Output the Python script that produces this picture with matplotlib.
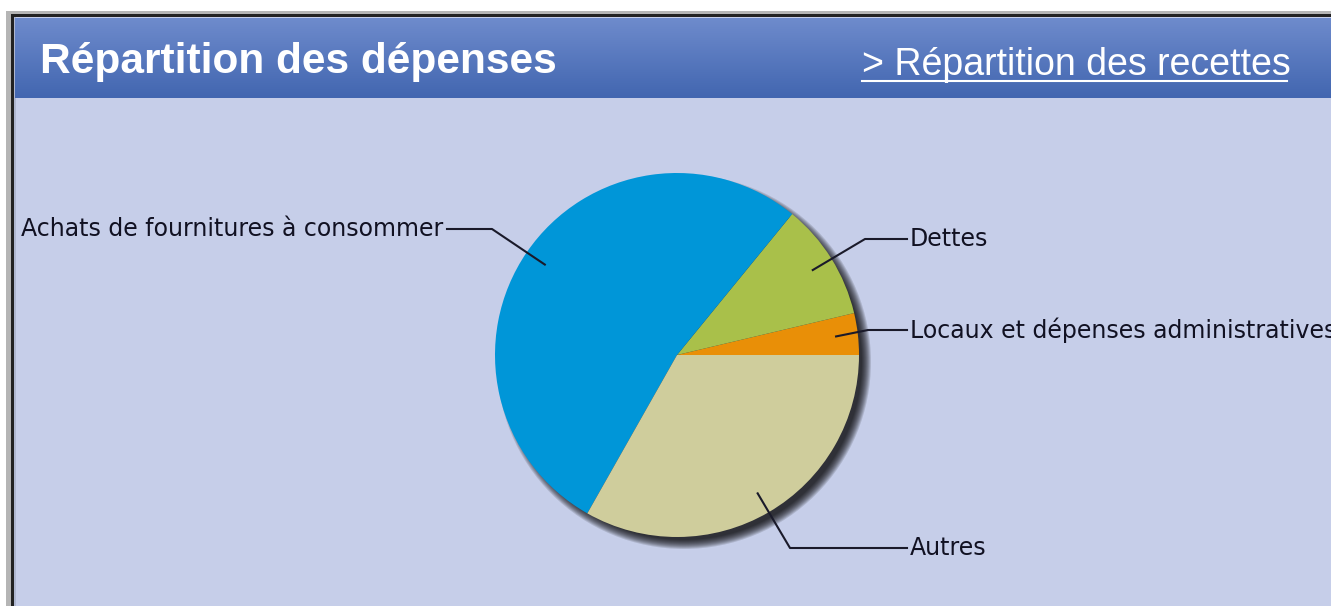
import matplotlib
matplotlib.use("Agg")
import matplotlib.pyplot as plt
import numpy as np
from matplotlib.patches import Circle, Rectangle

# data (share of expenses)
labels = ["Locaux et dépenses administratives", "Dettes",
          "Achats de fournitures à consommer", "Autres"]
shares = [3.7, 10.4, 52.7, 33.2]
colors = ["#e98f07", "#a9c04a", "#0096d8", "#cfcd9c"]

title = "Répartition des dépenses"
link = "> Répartition des recettes"

W, H = 1331, 606
BG = "#c6cee9"


def py(y):
    # pixel row (from top) -> data y
    return H - y


fig = plt.figure(figsize=(W / 100, H / 100), dpi=100)
ax = fig.add_axes([0, 0, 1, 1])
ax.set_xlim(0, W)
ax.set_ylim(0, H)
ax.set_aspect("equal")
ax.axis("off")
fig.patch.set_facecolor("white")

# frame
ax.add_patch(Rectangle((6, 0), W, py(11), color="#b5b5b5", lw=0))
ax.add_patch(Rectangle((11, 0), W, py(14), color="#222222", lw=0))
ax.add_patch(Rectangle((14, 0), W, py(17), color="#aeb6cf", lw=0))
ax.add_patch(Rectangle((16, 0), W, py(17), color=BG, lw=0))

# header band with vertical gradient
grad = np.linspace(0, 1, 100).reshape(-1, 1)
ax.imshow(grad, extent=(15, W, py(98), py(18)), aspect="auto",
          cmap=matplotlib.colors.LinearSegmentedColormap.from_list(
              "hdr", ["#6e8bcc", "#4266b0"]), zorder=1)

ax.text(40, py(62), title, color="white", fontsize=30.5, fontweight="bold",
        family="Liberation Sans", va="center", ha="left", zorder=3)
ax.text(862, py(65), link, color="white", fontsize=27,
        family="Liberation Sans", va="center", ha="left", zorder=3)
ax.plot([862, 1287], [py(81), py(81)], color="white", lw=1.5, zorder=3)

# pie
cx, cy, r = 677, py(355), 182

# soft drop shadow
for k in range(10):
    ax.add_patch(Circle((cx + 7, cy - 7), r + 5 - k, color="black",
                        alpha=0.13, lw=0, zorder=2))

wedges, _ = ax.pie(shares, colors=colors, startangle=0, counterclock=True,
                   center=(cx, cy), radius=r, frame=True,
                   wedgeprops=dict(linewidth=0))
for w in wedges:
    w.set_zorder(3)
ax.set_xlim(0, W)
ax.set_ylim(0, H)
ax.axis("off")

# leader lines and labels
elbows = [(868, 330), (865, 239), (492, 229), (790, 548)]
ends = [907, 907, 447, 907]
starts = np.cumsum([0] + shares[:-1]) / sum(shares) * 360
mids = starts + np.array(shares) / sum(shares) * 180
for lab, m, (ex, ey), tx in zip(labels, mids, elbows, ends):
    a = np.deg2rad(m)
    sx, sy = cx + 0.88 * r * np.cos(a), cy + 0.88 * r * np.sin(a)
    ax.plot([sx, ex, tx], [sy, py(ey), py(ey)], color="#1a1a2a", lw=1.5,
            zorder=4)
    if tx > cx:
        ax.text(tx + 3, py(ey), lab, fontsize=17, color="#111122",
                family="DejaVu Sans", va="center", ha="left", zorder=4)
    else:
        ax.text(tx - 4, py(ey), lab, fontsize=17, color="#111122",
                family="DejaVu Sans", va="center", ha="right", zorder=4)

fig.savefig("out.png", dpi=100, facecolor=fig.get_facecolor())
